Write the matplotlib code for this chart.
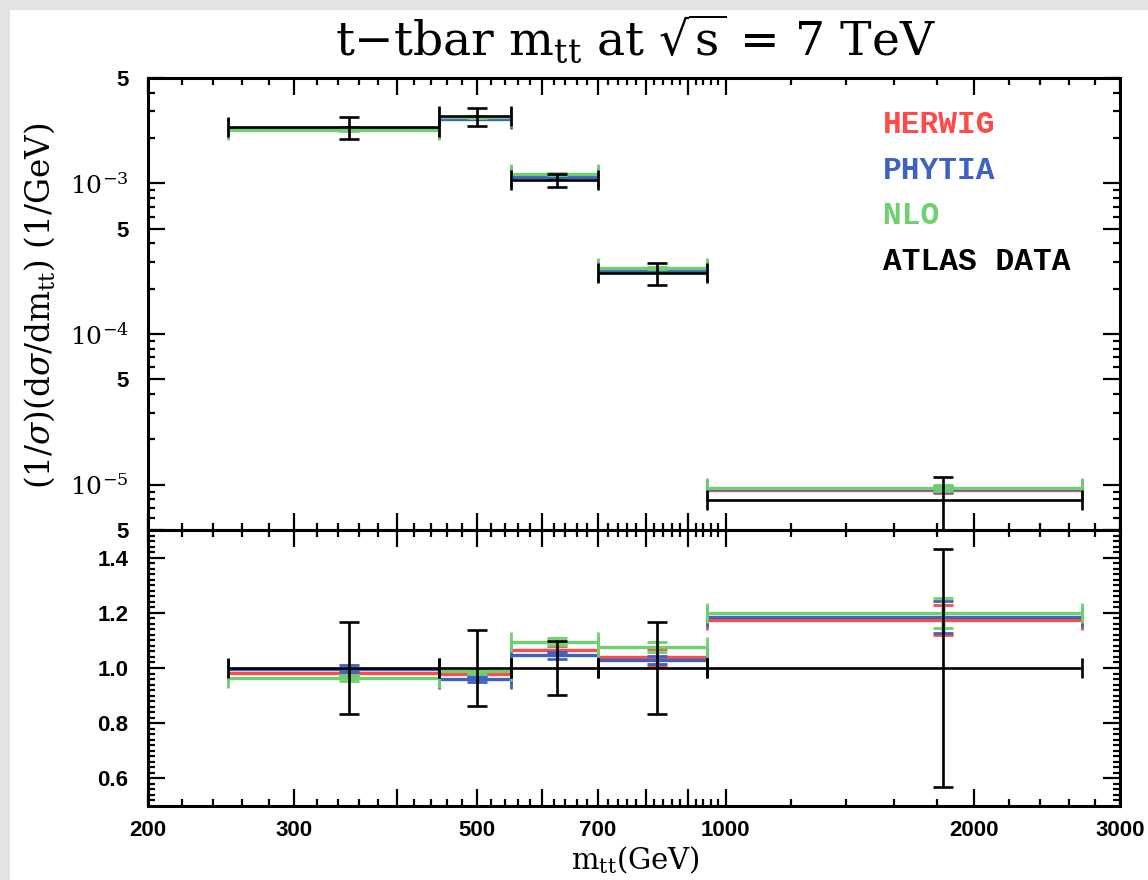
import numpy as np
import matplotlib
matplotlib.use("Agg")
import matplotlib.pyplot as plt
from matplotlib.patches import Rectangle
from matplotlib.ticker import FixedLocator, NullFormatter

plt.rcParams["mathtext.fontset"] = "dejavuserif"

# bins in m_tt (GeV)
bin_lo = [250, 450, 550, 700, 950]
bin_hi = [450, 550, 700, 950, 2700]
bin_center = [350, 500, 625, 825, 1830]

# ATLAS data (1/sigma dsigma/dm_tt) and relative errors
data_xsec = [2.35e-3, 2.79e-3, 1.05e-3, 2.55e-4, 7.9e-6]
data_relerr = [0.166, 0.138, 0.098, 0.165, 0.43]

# MC / data ratios and their errors
herwig_ratio = [0.982, 0.978, 1.067, 1.039, 1.174]
herwig_err = [0.010, 0.010, 0.012, 0.030, 0.055]
pythia_ratio = [0.998, 0.961, 1.046, 1.028, 1.186]
pythia_err = [0.012, 0.010, 0.012, 0.015, 0.058]
nlo_ratio = [0.963, 0.988, 1.095, 1.077, 1.200]
nlo_err = [0.010, 0.010, 0.012, 0.018, 0.054]

RED = "#ff4a4a"
BLUE = "#3d62c2"
GREEN = "#6fd06f"

W, H = 1148, 880
fig = plt.figure(figsize=(W / 100, H / 100), dpi=100)
fig.patch.set_facecolor("#e3e3e3")
fig.patches.append(Rectangle((10 / W, 0), 1, 1 - 10 / H, transform=fig.transFigure,
                             facecolor="white", edgecolor="none", zorder=-10))

left, right = 148 / W, 1120 / W
ax1 = fig.add_axes([left, 1 - 530 / H, right - left, (530 - 78) / H])
ax2 = fig.add_axes([left, 1 - 806 / H, right - left, (806 - 530) / H], sharex=ax1)

x = np.array(bin_center, float)
xerr = [x - np.array(bin_lo), np.array(bin_hi) - x]
data = np.array(data_xsec)
relerr = np.array(data_relerr)

# drawing order: red, blue, green, then data on top
models = [
    ("HERWIG", herwig_ratio, herwig_err, RED),
    ("PHYTIA", pythia_ratio, pythia_err, BLUE),
    ("NLO", nlo_ratio, nlo_err, GREEN),
]

# top panel
for name, r, e, c in models:
    r = np.array(r)
    ax1.errorbar(x, data * r, xerr=xerr, yerr=data * np.array(e), fmt="none",
                 ecolor=c, elinewidth=2.4, capsize=7, capthick=2.0)
ax1.errorbar(x, data, xerr=xerr, yerr=data * relerr, fmt="none",
             ecolor="black", elinewidth=1.9, capsize=7.5, capthick=1.9)

# ratio panel
for name, r, e, c in models:
    ax2.errorbar(x, r, xerr=xerr, yerr=e, fmt="none",
                 ecolor=c, elinewidth=2.4, capsize=7, capthick=2.0)
ax2.errorbar(x, np.ones_like(x), xerr=xerr, yerr=relerr, fmt="none",
             ecolor="black", elinewidth=1.9, capsize=7.5, capthick=1.9)

# axes formatting
tick_font = dict(family="Liberation Sans", weight="bold", size=16)
for ax in (ax1, ax2):
    ax.set_xscale("log")
    ax.set_xlim(200, 3000)
    for sp in ax.spines.values():
        sp.set_linewidth(2.2)
    ax.tick_params(which="both", direction="in", top=True, right=True, width=1.6)
    ax.tick_params(which="major", length=12)
    ax.tick_params(which="minor", length=5)

xmajor = list(range(200, 1001, 100)) + [2000, 3000]
xminor = [v for v in np.arange(200, 1000, 20) if v % 100] + \
         [v for v in np.arange(1000, 3000, 200) if v % 1000]
xlabels = {200: "200", 300: "300", 500: "500", 700: "700",
           1000: "1000", 2000: "2000", 3000: "3000"}
ax2.xaxis.set_major_locator(FixedLocator(xmajor))
ax2.xaxis.set_minor_locator(FixedLocator(xminor))
ax2.xaxis.set_minor_formatter(NullFormatter())
ax2.set_xticklabels([xlabels.get(v, "") for v in xmajor], fontdict=tick_font)
ax2.tick_params(axis="x", pad=10)
plt.setp(ax1.get_xticklabels(), visible=False)

ax1.set_yscale("log")
ax1.set_ylim(5e-6, 5e-3)
ymajor = [5e-6, 1e-5, 5e-5, 1e-4, 5e-4, 1e-3, 5e-3]
ylab = ["5", r"$10^{-5}$", "5", r"$10^{-4}$", "5", r"$10^{-3}$", "5"]
ax1.yaxis.set_major_locator(FixedLocator(ymajor))
yminor = [m * 10.0 ** p for p in (-6, -5, -4, -3) for m in (2, 3, 4, 6, 7, 8, 9)]
ax1.yaxis.set_minor_locator(FixedLocator([v for v in yminor if 5e-6 < v < 5e-3]))
ax1.yaxis.set_minor_formatter(NullFormatter())
ax1.set_yticklabels(ylab)
for t, s in zip(ax1.get_yticklabels(), ylab):
    if s == "5":
        t.set_fontfamily("Liberation Sans")
        t.set_fontweight("bold")
        t.set_fontsize(16)
    else:
        t.set_fontsize(18)
ax1.tick_params(axis="y", pad=14)

ax2.set_ylim(0.5, 1.5)
ax2.yaxis.set_major_locator(FixedLocator([0.6, 0.8, 1.0, 1.2, 1.4]))
ax2.yaxis.set_minor_locator(FixedLocator(np.arange(0.52, 1.5, 0.02)))
ax2.set_yticklabels(["0.6", "0.8", "1.0", "1.2", "1.4"], fontdict=tick_font)
ax2.tick_params(axis="y", pad=14)

# labels
fig.text(635 / W, 1 - 40 / H, r"t$-$tbar m$_{\rm tt}$ at $\sqrt{\rm s}$ = 7 TeV",
         ha="center", va="center", fontsize=34, family="DejaVu Serif")
fig.text(635 / W, 1 - 860 / H, r"m$_{\rm tt}$(GeV)", ha="center", va="center",
         fontsize=21, family="DejaVu Serif")
fig.text(40 / W, 1 - 306 / H, r"(1/$\sigma$)(d$\sigma$/dm$_{\rm tt}$) (1/GeV)",
         ha="center", va="center", rotation=90, fontsize=23.5, family="DejaVu Serif")

legend_items = [("HERWIG", RED, 125), ("PHYTIA", BLUE, 171),
                ("NLO", GREEN, 216), ("ATLAS DATA", "black", 262)]
for txt, c, yy in legend_items:
    fig.text(883 / W, 1 - yy / H, txt, color=c, ha="left", va="center",
             fontsize=22.5, family="Liberation Mono", weight="bold")

fig.savefig("out.png", dpi=100, facecolor=fig.get_facecolor())
